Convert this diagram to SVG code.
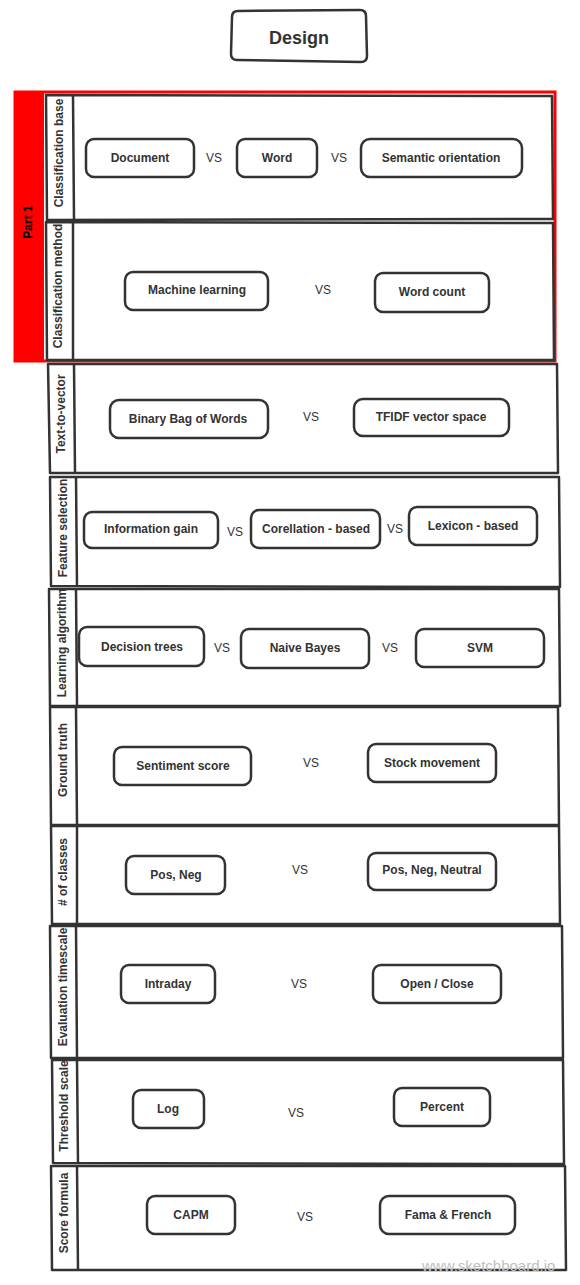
<svg xmlns="http://www.w3.org/2000/svg" width="580" height="1285" viewBox="0 0 580 1285">
<style>
.lane{fill:#fff;stroke:#333;stroke-width:2.5;stroke-linejoin:round}
.col{stroke:#333;stroke-width:2.5;fill:none}
.node{fill:#fff;stroke:#333;stroke-width:2.5}
.nt{font-family:"Liberation Sans",Arial,sans-serif;font-size:12px;font-weight:bold;fill:#333;text-anchor:middle;dominant-baseline:central}
.vs{font-family:"Liberation Sans",Arial,sans-serif;font-size:12px;fill:#333;text-anchor:middle;dominant-baseline:central}
.lt{font-family:"Liberation Sans",Arial,sans-serif;font-size:12px;font-weight:bold;fill:#333;text-anchor:middle;dominant-baseline:central}
</style>
<rect width="580" height="1285" fill="#fff"/>
<g id="design">
<path class="node" d="M238,11 L360,10 Q366,10 366,16 L367,56 Q367,62 361,62 L237,60 Q231,60 231,54 L232,17 Q232,11 238,11 Z"/>
<text x="299" y="38" class="nt" style="font-size:18px">Design</text>
</g>
<g id="part1">
<rect x="14" y="91" width="30" height="271" fill="#ff0000"/>
<rect x="15" y="92" width="540" height="269" fill="none" stroke="#ff0000" stroke-width="3"/>
<text class="lt" transform="translate(28,222) rotate(-90)" style="fill:#000">Part 1</text>
</g>
<g id="lane-classification-base">
<path class="lane" d="M46,95 L552,96 L553,219 L47,220 Z"/>
<path class="col" d="M73,95 L74,220"/>
<text class="lt" transform="translate(59,153) rotate(-90)">Classification base</text>
</g>
<g id="lane-classification-method">
<path class="lane" d="M46,222 L553,223 L554,360 L47,360 Z"/>
<path class="col" d="M73,222 L73,360"/>
<text class="lt" transform="translate(58,286) rotate(-90)">Classification method</text>
</g>
<g id="lane-text-to-vector">
<path class="lane" d="M48,364 L557,364 L558,473 L50,473 Z"/>
<path class="col" d="M74,364 L75,473"/>
<text class="lt" transform="translate(61,414) rotate(-90)">Text-to-vector</text>
</g>
<g id="lane-feature-selection">
<path class="lane" d="M50,477 L559,477 L560,587 L51,586 Z"/>
<path class="col" d="M76,477 L77,587"/>
<text class="lt" transform="translate(63,528) rotate(-90)">Feature selection</text>
</g>
<g id="lane-learning-algorithm">
<path class="lane" d="M49,589 L559,589 L560,706 L50,706 Z"/>
<path class="col" d="M76,589 L77,706"/>
<text class="lt" transform="translate(62,643) rotate(-90)">Learning algorithm</text>
</g>
<g id="lane-ground-truth">
<path class="lane" d="M50,707 L558,707 L559,825 L51,825 Z"/>
<path class="col" d="M76,707 L77,825"/>
<text class="lt" transform="translate(63,760) rotate(-90)">Ground truth</text>
</g>
<g id="lane-classes">
<path class="lane" d="M51,826 L559,826 L560,924 L52,924 Z"/>
<path class="col" d="M77,826 L77,924"/>
<text class="lt" transform="translate(63,872) rotate(-90)"># of classes</text>
</g>
<g id="lane-evaluation-timescale">
<path class="lane" d="M50,926 L562,926 L563,1058 L51,1058 Z"/>
<path class="col" d="M76,926 L77,1058"/>
<text class="lt" transform="translate(63,987) rotate(-90)">Evaluation timescale</text>
</g>
<g id="lane-threshold-scale">
<path class="lane" d="M52,1060 L563,1060 L564,1164 L53,1163 Z"/>
<path class="col" d="M77,1060 L78,1164"/>
<text class="lt" transform="translate(64,1106) rotate(-90)">Threshold scale</text>
</g>
<g id="lane-score-formula">
<path class="lane" d="M51,1166 L565,1166 L566,1270 L52,1270 Z"/>
<path class="col" d="M77,1166 L78,1270"/>
<text class="lt" transform="translate(64,1213) rotate(-90)">Score formula</text>
</g>
<g id="connectors"></g>
<g id="n-document"><rect class="node" x="86" y="139" width="108" height="38" rx="8"/><text class="nt" x="140" y="158">Document</text></g>
<text class="vs" x="214" y="158">VS</text>
<g id="n-word"><rect class="node" x="237" y="139" width="80" height="38" rx="8"/><text class="nt" x="277" y="158">Word</text></g>
<text class="vs" x="339" y="158">VS</text>
<g id="n-semantic"><rect class="node" x="361" y="139" width="161" height="38" rx="9"/><text class="nt" x="441" y="158">Semantic orientation</text></g>
<g id="n-ml"><rect class="node" x="125" y="272" width="143" height="38" rx="8"/><text class="nt" x="197" y="290">Machine learning</text></g>
<text class="vs" x="323" y="290">VS</text>
<g id="n-wordcount"><rect class="node" x="375" y="273" width="114" height="39" rx="8"/><text class="nt" x="432" y="292">Word count</text></g>
<g id="n-bbow"><rect class="node" x="110" y="400" width="158" height="38" rx="9"/><text class="nt" x="188" y="419">Binary Bag of Words</text></g>
<text class="vs" x="311" y="417">VS</text>
<g id="n-tfidf"><rect class="node" x="354" y="399" width="155" height="37" rx="9"/><text class="nt" x="431" y="417">TFIDF vector space</text></g>
<g id="n-infogain"><rect class="node" x="84" y="512" width="134" height="36" rx="8"/><text class="nt" x="151" y="529">Information gain</text></g>
<text class="vs" x="235" y="532">VS</text>
<g id="n-corellation"><rect class="node" x="251" y="510" width="129" height="38" rx="8"/><text class="nt" x="316" y="529">Corellation - based</text></g>
<text class="vs" x="395" y="529">VS</text>
<g id="n-lexicon"><rect class="node" x="409" y="507" width="128" height="38" rx="8"/><text class="nt" x="473" y="526">Lexicon - based</text></g>
<g id="n-dtrees"><rect class="node" x="79" y="627" width="125" height="39" rx="8"/><text class="nt" x="142" y="647">Decision trees</text></g>
<text class="vs" x="222" y="648">VS</text>
<g id="n-nb"><rect class="node" x="241" y="629" width="128" height="39" rx="8"/><text class="nt" x="305" y="648">Naive Bayes</text></g>
<text class="vs" x="390" y="648">VS</text>
<g id="n-svm"><rect class="node" x="416" y="629" width="128" height="38" rx="8"/><text class="nt" x="480" y="648">SVM</text></g>
<g id="n-sentiment"><rect class="node" x="114" y="747" width="137" height="38" rx="8"/><text class="nt" x="183" y="766">Sentiment score</text></g>
<text class="vs" x="311" y="763">VS</text>
<g id="n-stock"><rect class="node" x="368" y="744" width="128" height="38" rx="8"/><text class="nt" x="432" y="763">Stock movement</text></g>
<g id="n-posneg"><rect class="node" x="126" y="856" width="99" height="38" rx="8"/><text class="nt" x="176" y="875">Pos, Neg</text></g>
<text class="vs" x="300" y="870">VS</text>
<g id="n-posnegneutral"><rect class="node" x="368" y="853" width="128" height="37" rx="8"/><text class="nt" x="432" y="870">Pos, Neg, Neutral</text></g>
<g id="n-intraday"><rect class="node" x="121" y="965" width="94" height="38" rx="8"/><text class="nt" x="168" y="984">Intraday</text></g>
<text class="vs" x="299" y="984">VS</text>
<g id="n-openclose"><rect class="node" x="373" y="965" width="128" height="38" rx="8"/><text class="nt" x="437" y="984">Open / Close</text></g>
<g id="n-log"><rect class="node" x="133" y="1090" width="71" height="38" rx="8"/><text class="nt" x="168" y="1109">Log</text></g>
<text class="vs" x="296" y="1113">VS</text>
<g id="n-percent"><rect class="node" x="394" y="1088" width="96" height="38" rx="8"/><text class="nt" x="442" y="1107">Percent</text></g>
<g id="n-capm"><rect class="node" x="147" y="1196" width="88" height="38" rx="8"/><text class="nt" x="191" y="1215">CAPM</text></g>
<text class="vs" x="305" y="1217">VS</text>
<g id="n-fama"><rect class="node" x="380" y="1196" width="135" height="38" rx="9"/><text class="nt" x="448" y="1215">Fama &amp; French</text></g>
<text x="422" y="1271" font-family="'Liberation Sans',Arial,sans-serif" font-size="15" fill="#c0c0c0">www.sketchboard.io</text>
</svg>
